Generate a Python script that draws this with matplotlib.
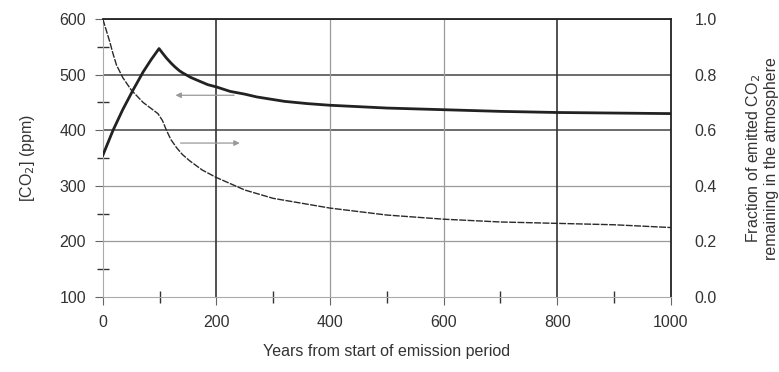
import matplotlib
matplotlib.use("Agg")
import matplotlib.pyplot as plt

plt.rcParams['font.family'] = ['Liberation Sans', 'DejaVu Sans']

# --- data ---
years_ppm = [0, 18, 35, 53, 71, 85, 99, 105, 112, 120, 127, 135, 141, 155, 171, 185, 200, 224, 250, 271, 320, 360, 400, 500, 600, 700, 800, 900, 1000]
co2_ppm = [355, 400, 437, 472, 505, 527, 547, 539, 530, 521, 514, 507, 503, 495, 488, 482, 478, 470, 465, 460, 452, 448, 445, 440, 437, 434, 432, 431, 430]

years_frac = [0, 6, 12, 18, 24, 35, 50, 71, 97, 105, 112, 120, 130, 140, 153, 175, 200, 250, 300, 400, 500, 600, 700, 800, 900, 1000]
frac_left = [1.0, 0.96, 0.92, 0.875, 0.835, 0.79, 0.745, 0.70, 0.66, 0.635, 0.60, 0.566, 0.537, 0.513, 0.49, 0.457, 0.43, 0.385, 0.355, 0.32, 0.295, 0.28, 0.27, 0.265, 0.26, 0.25]

x_ticks = [0, 200, 400, 600, 800, 1000]
x_minor = [100, 300, 500, 700, 900]
y_ticks = [100, 200, 300, 400, 500, 600]
y_minor = [150, 250, 350, 450, 550]
frac_ticks = [0.0, 0.2, 0.4, 0.6, 0.8, 1.0]

dark_h = [400, 500, 600]
light_h = [200, 300]
dark_v = [200, 800]
light_v = [400, 600]

fs = 11.5

fig = plt.figure(figsize=(7.79, 3.72), dpi=100)
ax = fig.add_axes([0.132, 0.2016, 0.729, 0.747])

for y in light_h:
    ax.axhline(y, color='#9a9a9a', lw=0.9, zorder=1)
for y in dark_h:
    ax.axhline(y, color='#444444', lw=1.1, zorder=1)
for x in light_v:
    ax.axvline(x, color='#9a9a9a', lw=0.9, zorder=1)
for x in dark_v:
    ax.axvline(x, color='#333333', lw=1.2, zorder=1)

ax.set_xlim(0, 1000)
ax.set_ylim(100, 600)
ax.set_xticks(x_ticks)
ax.set_xticks(x_minor, minor=True)
ax.set_yticks(y_ticks)
ax.set_yticks(y_minor, minor=True)
ax.tick_params(axis='both', which='major', length=6, color='#666666', labelsize=fs, labelcolor='#333333')
ax.tick_params(axis='both', which='minor', length=8, direction='inout', color='#333333', width=1.0)
ax.tick_params(axis='x', pad=7)
ax.tick_params(axis='y', pad=6)

ax.plot(years_ppm, co2_ppm, color='#222222', lw=2.0, zorder=3)

for s in ['left', 'bottom']:
    ax.spines[s].set_color('#aaaaaa')
for s in ['top', 'right']:
    ax.spines[s].set_color('#222222')
    ax.spines[s].set_linewidth(1.3)

ax.set_xlabel('Years from start of emission period', fontsize=fs, color='#333333', labelpad=10)
ax.set_ylabel('[CO$_2$] (ppm)', fontsize=fs, color='#333333', labelpad=16)

ax2 = ax.twinx()
ax2.set_ylim(0, 1)
ax2.set_yticks(frac_ticks)
ax2.set_yticklabels([f'{v:.1f}' for v in frac_ticks])
ax2.tick_params(axis='y', length=0, pad=17, labelsize=fs, labelcolor='#333333')
ax2.plot(years_frac, frac_left, color='#2a2a2a', lw=1.0, linestyle=(0, (5, 1)), zorder=3)
for s in ax2.spines.values():
    s.set_visible(False)
ax2.set_ylabel('Fraction of emitted CO$_2$\nremaining in the atmosphere', fontsize=fs,
               color='#333333', labelpad=20, linespacing=1.05)

# arrows pointing to the matching axis
ax.annotate('', xy=(123, 463), xytext=(236, 463),
            arrowprops=dict(arrowstyle='-|>', color='#999999', lw=0.9, mutation_scale=8))
ax.annotate('', xy=(246, 377), xytext=(132, 377),
            arrowprops=dict(arrowstyle='-|>', color='#999999', lw=0.9, mutation_scale=8))

fig.savefig('out.png', dpi=100)
